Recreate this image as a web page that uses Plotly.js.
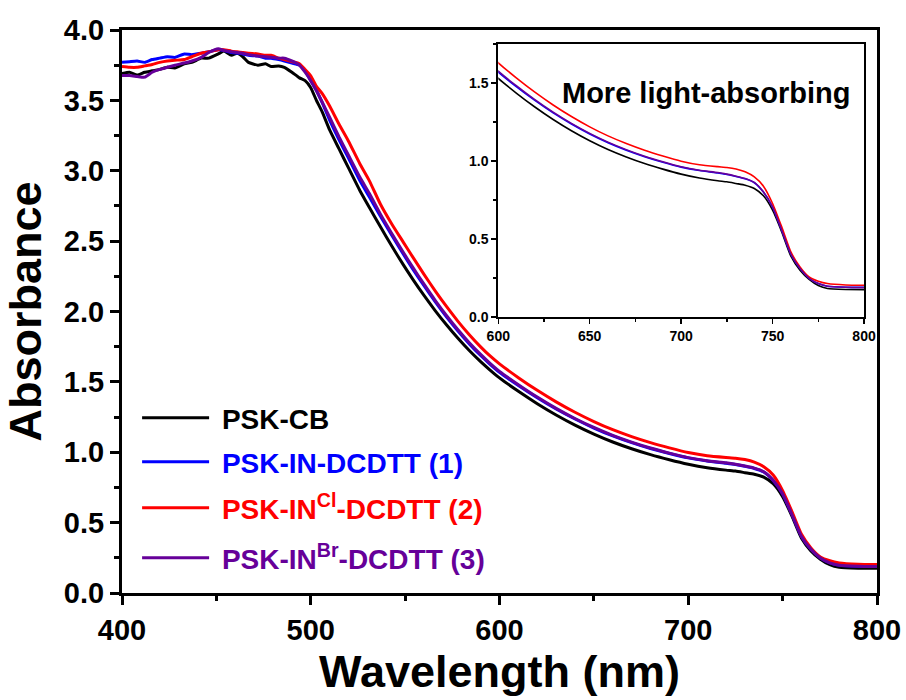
<!DOCTYPE html>
<html>
<head>
<meta charset="utf-8">
<script src="https://cdn.plot.ly/plotly-3.0.1.min.js"></script>
<style>
  html, body { margin: 0; padding: 0; background: #fff; }
  #chart { width: 906px; height: 700px; }
</style>
</head>
<body>
<div id="chart"></div>
<script>
// Wavelength grid (nm) shared by all four absorbance spectra
const wavelength = [400,404,408,412,416,420,424,428,433,437,
  442,446,451,454,458,461,464,467,472,476,
  479,483,486,490,494,497,500,503,506,510,
  515,520,526,531,537,543,549,554,560,566,
  572,578,584,590,595,600,610,620,630,640,
  650,660,670,680,690,700,710,720,725,730,
  735,740,745,750,755,760,765,770,775,780,
  790,800];

// PSK-CB
const absCB = [3.69,3.70,3.68,3.70,3.71,3.72,3.735,3.73,3.76,3.77,
  3.80,3.80,3.83,3.85,3.82,3.835,3.81,3.77,3.75,3.76,
  3.74,3.745,3.735,3.70,3.66,3.64,3.59,3.50,3.42,3.29,
  3.155,3.02,2.86,2.74,2.60,2.463,2.333,2.23,2.114,2.005,
  1.904,1.81,1.723,1.644,1.584,1.528,1.433,1.345,1.265,1.193,
  1.129,1.073,1.025,0.983,0.947,0.915,0.89,0.873,0.866,0.855,
  0.844,0.823,0.776,0.684,0.545,0.389,0.299,0.24,0.201,0.182,
  0.176,0.175];

// PSK-IN-DCDTT (1)
const absIN = [3.77,3.775,3.78,3.77,3.79,3.80,3.81,3.805,3.83,3.825,
  3.835,3.845,3.86,3.855,3.84,3.835,3.83,3.82,3.815,3.80,
  3.80,3.79,3.78,3.765,3.75,3.71,3.64,3.57,3.485,3.36,
  3.22,3.09,2.93,2.815,2.675,2.54,2.408,2.303,2.183,2.068,
  1.96,1.861,1.77,1.687,1.625,1.568,1.474,1.387,1.307,1.236,
  1.172,1.116,1.068,1.027,0.991,0.96,0.938,0.922,0.913,0.90,
  0.885,0.86,0.80,0.704,0.556,0.402,0.31,0.248,0.214,0.197,
  0.19,0.19];

// PSK-IN^Cl-DCDTT (2)
const absINCl = [3.74,3.735,3.735,3.745,3.755,3.77,3.78,3.785,3.79,3.81,
  3.835,3.845,3.86,3.86,3.85,3.845,3.84,3.835,3.83,3.82,
  3.82,3.80,3.79,3.775,3.76,3.72,3.675,3.60,3.55,3.46,
  3.33,3.21,3.05,2.93,2.76,2.62,2.493,2.388,2.264,2.145,
  2.034,1.93,1.835,1.749,1.684,1.628,1.53,1.44,1.358,1.284,
  1.218,1.16,1.111,1.068,1.031,0.998,0.975,0.963,0.958,0.948,
  0.93,0.897,0.838,0.727,0.577,0.417,0.32,0.256,0.229,0.214,
  0.205,0.203];

// PSK-IN^Br-DCDTT (3)
const absINBr = [3.676,3.676,3.67,3.665,3.70,3.72,3.735,3.75,3.765,3.78,
  3.806,3.84,3.866,3.855,3.845,3.84,3.835,3.825,3.815,3.81,
  3.806,3.80,3.80,3.78,3.75,3.70,3.64,3.57,3.49,3.38,
  3.24,3.11,2.955,2.84,2.69,2.553,2.421,2.315,2.194,2.078,
  1.97,1.87,1.778,1.695,1.632,1.575,1.48,1.392,1.312,1.24,
  1.176,1.12,1.072,1.03,0.994,0.962,0.94,0.925,0.915,0.902,
  0.887,0.862,0.801,0.705,0.556,0.402,0.31,0.248,0.214,0.197,
  0.19,0.188];

const NBSP = '\u00a0';
const seriesNames = ['PSK-CB', 'PSK-IN-DCDTT (1)',
  'PSK-IN<sup>Cl</sup>-DCDTT (2)', 'PSK-IN<sup>Br</sup>-DCDTT (3)'];
const seriesColors = ['#000000', '#0000ff', '#ff0000', '#660099'];
const seriesValues = [absCB, absIN, absINCl, absINBr];
const legendIds = ['legend', 'legend2', 'legend3', 'legend4'];

const FONT = 'Liberation Sans, Arial, Helvetica, sans-serif';

const traces = [];
// main spectra
seriesValues.forEach((vals, i) => {
  traces.push({
    x: wavelength, y: vals, type: 'scatter', mode: 'lines',
    name: NBSP + seriesNames[i], legend: legendIds[i],
    line: { color: seriesColors[i], width: 3, shape: 'spline', smoothing: 0.5 },
    xaxis: 'x', yaxis: 'y', hoverinfo: 'skip'
  });
});
// zoomed view of the 600-800 nm region
seriesValues.forEach((vals, i) => {
  traces.push({
    x: wavelength, y: vals, type: 'scatter', mode: 'lines',
    showlegend: false,
    line: { color: seriesColors[i], width: 1.6, shape: 'spline', smoothing: 0.5 },
    xaxis: 'x2', yaxis: 'y2', hoverinfo: 'skip'
  });
});

function legendBox(yPos, color) {
  return {
    x: 0.02, y: yPos, xanchor: 'left', yanchor: 'middle',
    bgcolor: 'rgba(0,0,0,0)', borderwidth: 0, itemwidth: 67,
    font: { family: FONT, size: 28, color: color, weight: 'bold' }
  };
}

const mainAxis = {
  showline: true, linecolor: '#000', linewidth: 3, mirror: true,
  ticks: 'outside', ticklen: 9, tickwidth: 3, tickcolor: '#000',
  showgrid: false, zeroline: false,
  tickfont: { family: FONT, size: 29, color: '#000', weight: 'bold' }
};

const insetAxis = {
  showline: true, linecolor: '#000', linewidth: 2, mirror: true,
  ticks: 'outside', ticklen: 5, tickwidth: 1.5, tickcolor: '#000',
  showgrid: false, zeroline: false,
  tickfont: { family: FONT, size: 14, color: '#000', weight: 'bold' }
};

const layout = {
  width: 906, height: 700,
  margin: { l: 122, r: 29, t: 29.5, b: 107 },
  paper_bgcolor: '#fff', plot_bgcolor: 'rgba(0,0,0,0)',
  showlegend: true,
  xaxis: Object.assign({}, mainAxis, {
    range: [400, 800], domain: [0, 1], tick0: 400, dtick: 100,
    minor: { dtick: 50, ticks: 'outside', ticklen: 5, tickwidth: 3, tickcolor: '#000' },
    title: { text: NBSP + NBSP + 'Wavelength (nm)', standoff: 10,
      font: { family: FONT, size: 45, color: '#000', weight: 'bold' } }
  }),
  yaxis: Object.assign({}, mainAxis, {
    range: [0, 4], domain: [0, 1], tick0: 0, dtick: 0.5, tickformat: '.1f',
    minor: { dtick: 0.25, ticks: 'outside', ticklen: 5, tickwidth: 3, tickcolor: '#000' },
    title: { text: 'Absorbance', standoff: 10,
      font: { family: FONT, size: 45, color: '#000', weight: 'bold' } }
  }),
  xaxis2: Object.assign({}, insetAxis, {
    anchor: 'y2', domain: [0.4984, 0.9828], range: [600, 800], tick0: 600, dtick: 50,
    minor: { dtick: 25, ticks: 'outside', ticklen: 3, tickwidth: 1.5, tickcolor: '#000' }
  }),
  yaxis2: Object.assign({}, insetAxis, {
    anchor: 'x2', domain: [0.4903, 0.9755], range: [0, 1.75], tick0: 0, dtick: 0.5,
    tickformat: '.1f',
    minor: { dtick: 0.25, ticks: 'outside', ticklen: 3, tickwidth: 1.5, tickcolor: '#000' }
  }),
  legend: legendBox(0.3106, seriesColors[0]),
  legend2: legendBox(0.2325, seriesColors[1]),
  legend3: legendBox(0.1508, seriesColors[2]),
  legend4: legendBox(0.0621, seriesColors[3]),
  annotations: [{
    xref: 'x2', yref: 'y2', x: 713.5, y: 1.432, showarrow: false,
    text: 'More light-absorbing',
    font: { family: FONT, size: 29, color: '#000', weight: 'bold' }
  }]
};

Plotly.newPlot('chart', traces, layout, { staticPlot: true, displayModeBar: false });
</script>
</body>
</html>
